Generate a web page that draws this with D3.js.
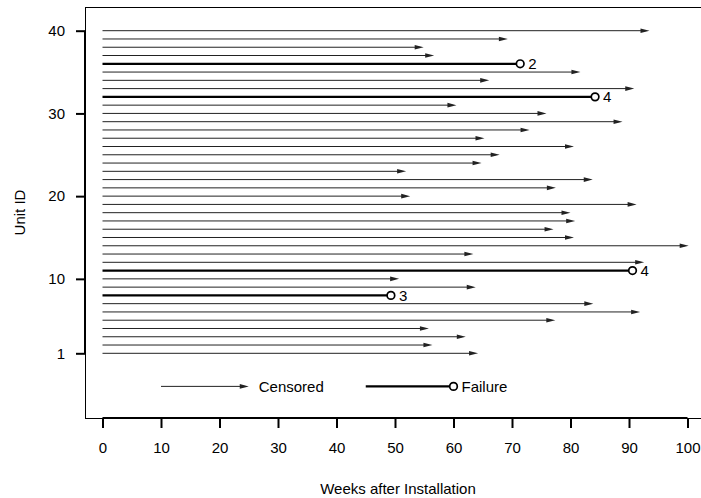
<!DOCTYPE html>
<html>
<head>
<meta charset="utf-8">
<script src="https://cdn.jsdelivr.net/npm/d3@7"></script>
<style>
  body { margin: 0; background: #fff; }
  text { font-family: "Liberation Sans", Arial, sans-serif; fill: #000; }
</style>
</head>
<body>
<svg id="chart"></svg>
<script>
// unit ids, weeks observed, and status (F = failure, C = censored)
const units = d3.range(1, 41);
const weeks = [64.2, 56.4, 62.1, 55.8, 77.4, 91.9, 83.9, 49.3, 63.8, 50.7,
               90.6, 92.6, 63.4, 100.2, 80.6, 77.1, 80.8, 80.0, 91.3, 52.6,
               77.5, 83.8, 51.9, 64.8, 67.9, 80.6, 65.3, 73.0, 88.9, 75.9,
               60.5, 84.2, 90.9, 66.1, 81.7, 71.4, 56.7, 54.9, 69.3, 93.5];
const status = ['C','C','C','C','C','C','C','F','C','C',
                'F','C','C','C','C','C','C','C','C','C',
                'C','C','C','C','C','C','C','C','C','C',
                'C','F','C','C','C','F','C','C','C','C'];
const failLabels = {8: '3', 11: '4', 32: '4', 36: '2'};

const xTicks = [0, 10, 20, 30, 40, 50, 60, 70, 80, 90, 100];
const yTicks = [1, 10, 20, 30, 40];

const width = 701, height = 498;
const box = {left: 85, top: 7, right: 712, bottom: 418};
const fs = '15px';

const svg = d3.select('#chart')
    .attr('width', width)
    .attr('height', height);

const xScale = d3.scaleLinear()
    .domain([0, 100])
    .range([102.5, 687.5]);

const yScale = d3.scaleLinear()
    .domain([1, 40])
    .range([353.3, 30.7]);

const data = units.map((u, i) => ({unit: u, t: weeks[i], status: status[i]}));

// plot box
svg.append('rect')
    .attr('x', box.left + 0.5)
    .attr('y', box.top + 0.5)
    .attr('width', box.right - box.left)
    .attr('height', box.bottom - box.top)
    .attr('fill', 'none')
    .attr('stroke', '#000')
    .attr('stroke-width', 1);

// x axis
const xAxis = svg.append('g')
    .attr('transform', 'translate(0,' + box.bottom + ')')
    .call(d3.axisBottom(xScale).tickValues(xTicks).tickSize(10).tickPadding(14));
xAxis.select('.domain')
    .attr('d', 'M' + xScale(0) + ',0H' + xScale(100))
    .attr('stroke-width', 2);
xAxis.selectAll('.tick line').attr('stroke-width', 2);
xAxis.selectAll('.tick text')
    .style('font-size', fs)
    .style('font-family', '"Liberation Sans", Arial, sans-serif');

// y axis
const yAxis = svg.append('g')
    .attr('transform', 'translate(' + box.left + ',0)')
    .call(d3.axisLeft(yScale).tickValues(yTicks).tickSize(9).tickPadding(11));
yAxis.select('.domain')
    .attr('d', 'M0,' + yScale(1) + 'V' + yScale(40))
    .attr('stroke-width', 2);
yAxis.selectAll('.tick line').attr('stroke-width', 2);
yAxis.selectAll('.tick text')
    .style('font-size', fs)
    .style('font-family', '"Liberation Sans", Arial, sans-serif');

// axis titles
svg.append('text')
    .attr('x', 398)
    .attr('y', 494)
    .attr('text-anchor', 'middle')
    .style('font-size', fs)
    .text('Weeks after Installation');

svg.append('text')
    .attr('transform', 'translate(25,' + ((box.top + box.bottom) / 2) + ') rotate(-90)')
    .attr('text-anchor', 'middle')
    .style('font-size', fs)
    .text('Unit ID');

function arrowHead(x, y) {
    return 'M' + x + ',' + y + 'L' + (x - 9) + ',' + (y - 2.3) +
           'L' + (x - 9) + ',' + (y + 2.3) + 'Z';
}

// censored units: thin line with arrow
const cens = data.filter(d => d.status === 'C');
svg.selectAll('.cens-line')
    .data(cens)
    .enter()
    .append('line')
    .attr('x1', xScale(0))
    .attr('x2', d => xScale(d.t) - 4)
    .attr('y1', d => yScale(d.unit))
    .attr('y2', d => yScale(d.unit))
    .attr('stroke', '#222')
    .attr('stroke-width', 1);

svg.selectAll('.cens-head')
    .data(cens)
    .enter()
    .append('path')
    .attr('d', d => arrowHead(xScale(d.t), yScale(d.unit)))
    .attr('fill', '#222');

// failures: thick line with open circle and count label
const fail = data.filter(d => d.status === 'F');
svg.selectAll('.fail-line')
    .data(fail)
    .enter()
    .append('line')
    .attr('x1', xScale(0))
    .attr('x2', d => xScale(d.t) - 3.8)
    .attr('y1', d => yScale(d.unit))
    .attr('y2', d => yScale(d.unit))
    .attr('stroke', '#000')
    .attr('stroke-width', 2.2);

svg.selectAll('.fail-pt')
    .data(fail)
    .enter()
    .append('circle')
    .attr('cx', d => xScale(d.t))
    .attr('cy', d => yScale(d.unit))
    .attr('r', 3.8)
    .attr('fill', '#fff')
    .attr('stroke', '#000')
    .attr('stroke-width', 1.7);

svg.selectAll('.fail-lab')
    .data(fail)
    .enter()
    .append('text')
    .attr('x', d => xScale(d.t) + 8)
    .attr('y', d => yScale(d.unit) + 5.2)
    .style('font-size', fs)
    .text(d => failLabels[d.unit]);

// legend (placed in data units, below unit 1)
const legY = yScale(-3);
svg.append('line')
    .attr('x1', xScale(10)).attr('x2', xScale(25) - 4)
    .attr('y1', legY).attr('y2', legY)
    .attr('stroke', '#222').attr('stroke-width', 1);
svg.append('path')
    .attr('d', arrowHead(xScale(25), legY))
    .attr('fill', '#222');
svg.append('text')
    .attr('x', xScale(25) + 10)
    .attr('y', legY + 5.2)
    .style('font-size', fs)
    .text('Censored');

svg.append('line')
    .attr('x1', xScale(45)).attr('x2', xScale(60) - 3.8)
    .attr('y1', legY).attr('y2', legY)
    .attr('stroke', '#000').attr('stroke-width', 2.2);
svg.append('circle')
    .attr('cx', xScale(60)).attr('cy', legY)
    .attr('r', 3.8)
    .attr('fill', '#fff').attr('stroke', '#000').attr('stroke-width', 1.7);
svg.append('text')
    .attr('x', xScale(60) + 8)
    .attr('y', legY + 5.2)
    .style('font-size', fs)
    .text('Failure');
</script>
</body>
</html>
